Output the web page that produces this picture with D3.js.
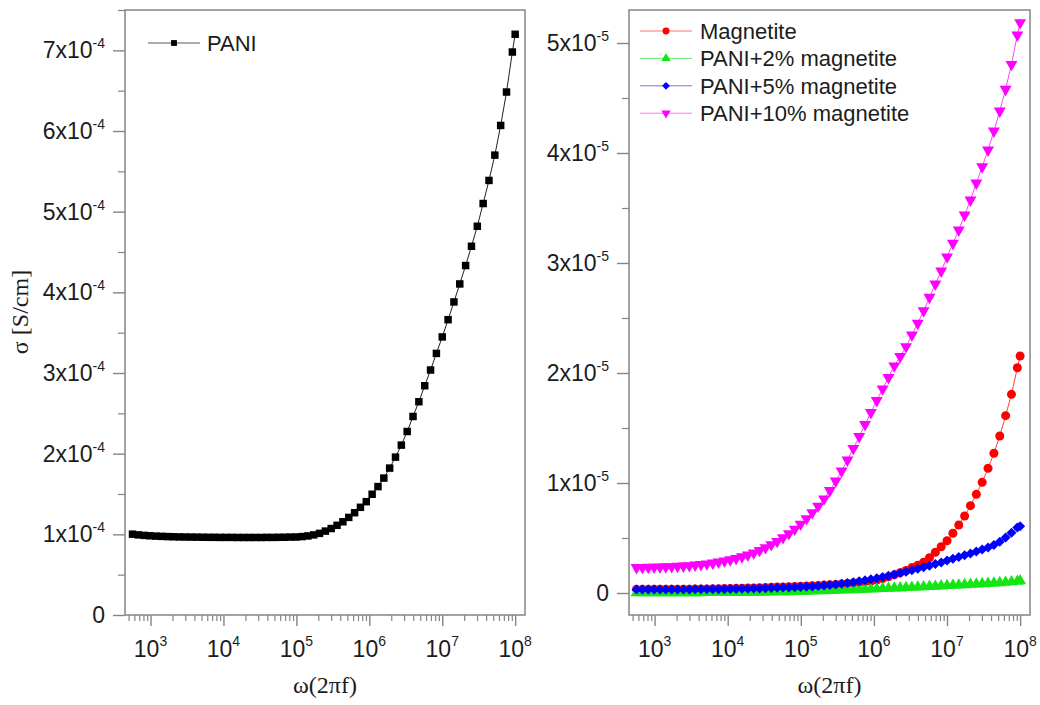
<!DOCTYPE html>
<html>
<head>
<meta charset="utf-8">
<script src="https://cdn.jsdelivr.net/npm/d3@7"></script>
<style>
  body { margin: 0; background: #fff; }
  svg { display: block; }
</style>
</head>
<body>
<svg id="chart" width="1040" height="705"></svg>
<script>
// Angular frequency ω (rad/s) of each measurement point
const omega = [566, 681, 819, 985, 1185, 1425, 1714, 2061, 2480, 2983,
  3587, 4314, 5188, 6240, 7504, 9025, 10853, 13052, 15697, 18878,
  22703, 27303, 32835, 39488, 47489, 57111, 68682, 82598, 99335, 119500,
  143700, 172800, 207800, 249900, 300500, 361400, 434600, 522700, 628600, 756000,
  909200, 1.0934e6, 1.315e6, 1.581e6, 1.902e6, 2.287e6, 2.750e6, 3.307e6, 3.978e6, 4.784e6,
  5.753e6, 6.919e6, 8.320e6, 1.0006e7, 1.2033e7, 1.447e7, 1.740e7, 2.093e7, 2.517e7, 3.027e7,
  3.640e7, 4.378e7, 5.265e7, 6.331e7, 7.614e7, 9.157e7, 1.0e8];

// σ of pure PANI, in units of 1e-4 S/cm
const paniSigma = [1.002, 0.993, 0.987, 0.982, 0.978, 0.975, 0.972, 0.970, 0.968, 0.967,
  0.966, 0.965, 0.964, 0.963, 0.963, 0.962, 0.962, 0.962, 0.961, 0.961,
  0.961, 0.961, 0.961, 0.962, 0.962, 0.963, 0.964, 0.966, 0.967, 0.972,
  0.980, 0.993, 1.012, 1.040, 1.072, 1.112, 1.156, 1.210, 1.268, 1.335,
  1.405, 1.497, 1.592, 1.697, 1.821, 1.957, 2.106, 2.275, 2.461, 2.644,
  2.842, 3.037, 3.243, 3.447, 3.661, 3.881, 4.104, 4.332, 4.571, 4.819,
  5.101, 5.387, 5.701, 6.069, 6.483, 6.979, 7.199];

// σ of magnetite and the composites, in units of 1e-5 S/cm
const magnetiteSigma = [0.033, 0.033, 0.033, 0.034, 0.034, 0.034, 0.035, 0.035, 0.035, 0.035,
  0.036, 0.037, 0.037, 0.038, 0.039, 0.040, 0.041, 0.042, 0.044, 0.045,
  0.046, 0.048, 0.050, 0.052, 0.054, 0.055, 0.057, 0.059, 0.061, 0.064,
  0.065, 0.068, 0.072, 0.075, 0.078, 0.082, 0.086, 0.091, 0.095, 0.101,
  0.106, 0.118, 0.132, 0.147, 0.165, 0.184, 0.205, 0.231, 0.253, 0.279,
  0.321, 0.370, 0.421, 0.475, 0.543, 0.618, 0.700, 0.794, 0.897, 1.006,
  1.134, 1.270, 1.427, 1.612, 1.806, 2.048, 2.155];

const pani2Sigma = [0.001, 0.001, 0.001, 0.001, 0.001, 0.001, 0.001, 0.002, 0.002, 0.002,
  0.002, 0.002, 0.003, 0.003, 0.003, 0.003, 0.004, 0.004, 0.005, 0.005,
  0.006, 0.007, 0.008, 0.009, 0.010, 0.011, 0.012, 0.013, 0.014, 0.016,
  0.017, 0.019, 0.020, 0.022, 0.024, 0.026, 0.028, 0.030, 0.032, 0.034,
  0.036, 0.038, 0.040, 0.042, 0.044, 0.046, 0.049, 0.051, 0.054, 0.056,
  0.059, 0.061, 0.064, 0.067, 0.069, 0.072, 0.075, 0.078, 0.081, 0.084,
  0.087, 0.090, 0.093, 0.097, 0.101, 0.106, 0.110];

const pani5Sigma = [0.031, 0.031, 0.031, 0.031, 0.031, 0.032, 0.032, 0.032, 0.032, 0.032,
  0.033, 0.033, 0.034, 0.034, 0.035, 0.035, 0.036, 0.037, 0.038, 0.039,
  0.040, 0.042, 0.044, 0.045, 0.047, 0.049, 0.051, 0.053, 0.055, 0.057,
  0.060, 0.064, 0.068, 0.073, 0.078, 0.085, 0.091, 0.098, 0.106, 0.115,
  0.125, 0.135, 0.146, 0.157, 0.169, 0.181, 0.194, 0.206, 0.220, 0.234,
  0.248, 0.263, 0.278, 0.295, 0.311, 0.327, 0.343, 0.360, 0.377, 0.395,
  0.414, 0.437, 0.466, 0.505, 0.548, 0.595, 0.606];

const pani10Sigma = [0.232, 0.233, 0.234, 0.235, 0.236, 0.238, 0.240, 0.243, 0.245, 0.249,
  0.254, 0.259, 0.265, 0.273, 0.282, 0.291, 0.302, 0.315, 0.329, 0.345,
  0.365, 0.387, 0.412, 0.439, 0.469, 0.503, 0.540, 0.581, 0.626, 0.676,
  0.731, 0.790, 0.855, 0.932, 1.018, 1.109, 1.209, 1.314, 1.423, 1.532,
  1.641, 1.750, 1.855, 1.959, 2.064, 2.150, 2.240, 2.345, 2.452, 2.566,
  2.688, 2.809, 2.927, 3.055, 3.179, 3.300, 3.436, 3.573, 3.727, 3.875,
  4.027, 4.200, 4.382, 4.579, 4.806, 5.073, 5.185];

// Axis ticks
const xTickExponents = [3, 4, 5, 6, 7, 8];
const leftYTicks = [0, 1, 2, 3, 4, 5, 6, 7];   // × 1e-4
const rightYTicks = [0, 1, 2, 3, 4, 5];        // × 1e-5

const svg = d3.select("#chart");
const FRAME = "#858585";
const TEXT = "#1c1c1c";
const SANS = "'Liberation Sans', Arial, sans-serif";
const SERIF = "'Liberation Serif', 'Times New Roman', serif";

const xDomain = [Math.pow(10, 2.65), Math.pow(10, 8.135)];

const panels = [
  { left: 125, right: 525, top: 10, bottom: 615,
    unit: 1e-4, exponent: -4, yDomain: [0, 7.5e-4], yTicks: leftYTicks,
    series: [{ name: "PANI", values: paniSigma, color: "#000000", line: "#222222",
               shape: "square", size: 56, legendSize: 34 }],
    legend: { x0: 148, x1: 200, y: 43, textX: 207, dy: 0 } },
  { left: 629, right: 1030, top: 10, bottom: 615,
    unit: 1e-5, exponent: -5, yDomain: [-0.2e-5, 5.3e-5], yTicks: rightYTicks,
    series: [
      { name: "Magnetite", values: magnetiteSigma, color: "#ff0000", line: "#ff4040", shape: "circle", size: 64, legendSize: 38 },
      { name: "PANI+2% magnetite", values: pani2Sigma, color: "#14e614", line: "#40e040", shape: "up", size: 62, legendSize: 38 },
      { name: "PANI+5% magnetite", values: pani5Sigma, color: "#0000ff", line: "#4040ff", shape: "diamond", size: 50, legendSize: 30 },
      { name: "PANI+10% magnetite", values: pani10Sigma, color: "#ff00ff", line: "#ff40ff", shape: "down", size: 62, legendSize: 38 }
    ],
    legend: { x0: 640, x1: 692, y: 31, textX: 700, dy: 27.4 } }
];

function symbolPath(shape, size) {
  const type = shape === "square" || shape === "diamond" ? d3.symbolSquare
             : shape === "circle" ? d3.symbolCircle : d3.symbolTriangle;
  return d3.symbol().type(type).size(size)();
}
function symbolRotation(shape) {
  return shape === "down" ? 180 : shape === "diamond" ? 45 : 0;
}

panels.forEach(p => {
  const x = d3.scaleLog().domain(xDomain).range([p.left, p.right]);
  const y = d3.scaleLinear().domain(p.yDomain).range([p.bottom, p.top]);
  const g = svg.append("g");

  // minor and major x ticks
  const minorX = [];
  for (let e = 2; e <= 8; e++) for (let m = 2; m <= 9; m++) {
    const v = m * Math.pow(10, e);
    if (v >= xDomain[0] && v <= xDomain[1]) minorX.push(v);
  }
  g.append("g").attr("transform", `translate(0,${p.bottom})`)
    .call(d3.axisBottom(x).tickValues(minorX).tickSize(6).tickFormat(""))
    .call(a => a.select(".domain").remove())
    .call(a => a.selectAll("line").attr("stroke", FRAME).attr("stroke-width", 1.2));
  g.append("g").attr("transform", `translate(0,${p.bottom})`)
    .call(d3.axisBottom(x).tickValues(xTickExponents.map(e => Math.pow(10, e))).tickSize(11).tickFormat(""))
    .call(a => a.select(".domain").remove())
    .call(a => a.selectAll("line").attr("stroke", FRAME).attr("stroke-width", 1.4));

  // x tick labels 10^n
  xTickExponents.forEach(e => {
    const t = g.append("text")
      .attr("x", x(Math.pow(10, e))).attr("y", p.bottom + 42)
      .attr("text-anchor", "middle")
      .attr("font-family", SANS).attr("font-size", 23).attr("fill", TEXT);
    t.append("tspan").text("10");
    t.append("tspan").attr("dy", -11).attr("font-size", 14).text(e);
  });

  // y ticks
  const majorY = p.yTicks.map(v => v * p.unit);
  const minorY = p.yTicks.map(v => (v + 0.5) * p.unit).filter(v => v <= p.yDomain[1]);
  g.append("g").attr("transform", `translate(${p.left},0)`)
    .call(d3.axisLeft(y).tickValues(minorY).tickSize(7).tickFormat(""))
    .call(a => a.select(".domain").remove())
    .call(a => a.selectAll("line").attr("stroke", FRAME).attr("stroke-width", 1.2));
  g.append("g").attr("transform", `translate(${p.left},0)`)
    .call(d3.axisLeft(y).tickValues(majorY).tickSize(12).tickFormat(""))
    .call(a => a.select(".domain").remove())
    .call(a => a.selectAll("line").attr("stroke", FRAME).attr("stroke-width", 1.4));

  p.yTicks.forEach(v => {
    const t = g.append("text")
      .attr("x", p.left - 20).attr("y", y(v * p.unit) + 8)
      .attr("text-anchor", "end")
      .attr("font-family", SANS).attr("font-size", 23).attr("fill", TEXT);
    if (v === 0) {
      t.text("0");
    } else {
      t.append("tspan").text(v + "x10");
      t.append("tspan").attr("dy", -10).attr("font-size", 14).text(p.exponent);
    }
  });

  // frame
  g.append("rect")
    .attr("x", p.left).attr("y", p.top)
    .attr("width", p.right - p.left).attr("height", p.bottom - p.top)
    .attr("fill", "none").attr("stroke", FRAME).attr("stroke-width", 1.5);

  // x-axis title
  g.append("text")
    .attr("x", (p.left + p.right) / 2).attr("y", 693)
    .attr("text-anchor", "middle")
    .attr("font-family", SERIF).attr("font-size", 24).attr("fill", TEXT)
    .text("ω(2πf)");

  // series: connecting line then markers
  const line = d3.line().x(d => x(d[0])).y(d => y(d[1]));
  p.series.forEach(s => {
    const pts = omega.map((w, i) => [w, s.values[i] * p.unit]);
    g.append("path").datum(pts)
      .attr("d", line).attr("fill", "none")
      .attr("stroke", s.line).attr("stroke-width", 1);
    const path = symbolPath(s.shape, s.size);
    g.append("g").selectAll("path").data(pts).join("path")
      .attr("d", path)
      .attr("transform", d => `translate(${x(d[0])},${y(d[1])}) rotate(${symbolRotation(s.shape)})`)
      .attr("fill", s.color);
  });

  // legend
  p.series.forEach((s, i) => {
    const ly = p.legend.y + i * p.legend.dy;
    g.append("line")
      .attr("x1", p.legend.x0).attr("x2", p.legend.x1)
      .attr("y1", ly).attr("y2", ly)
      .attr("stroke", s.line).attr("stroke-width", 1).attr("opacity", 0.75);
    g.append("path")
      .attr("d", symbolPath(s.shape, s.legendSize))
      .attr("transform", `translate(${(p.legend.x0 + p.legend.x1) / 2},${ly}) rotate(${symbolRotation(s.shape)})`)
      .attr("fill", s.color);
    g.append("text")
      .attr("x", p.legend.textX).attr("y", ly + 8)
      .attr("font-family", SANS).attr("font-size", 22).attr("fill", TEXT)
      .text(s.name);
  });
});

// y-axis title
svg.append("text")
  .attr("transform", "translate(28,312) rotate(-90)")
  .attr("text-anchor", "middle")
  .attr("font-family", SERIF).attr("font-size", 24).attr("fill", TEXT)
  .text("σ [S/cm]");
</script>
</body>
</html>
